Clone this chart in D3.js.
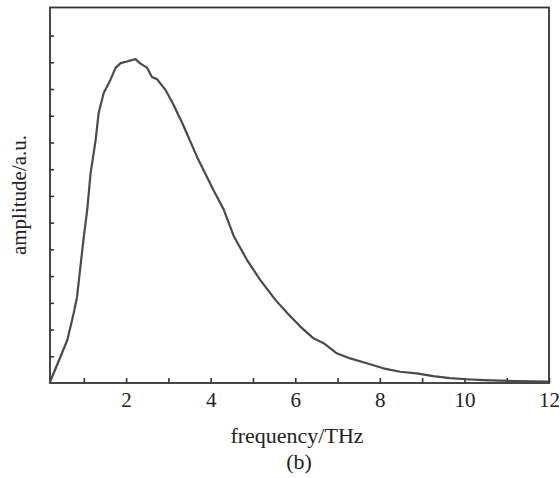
<!DOCTYPE html>
<html>
<head>
<meta charset="utf-8">
<script src="https://cdn.jsdelivr.net/npm/d3@7"></script>
<style>
  body { margin: 0; background: #fff; }
  text { font-family: "Liberation Serif", "DejaVu Serif", serif; fill: #222; }
</style>
</head>
<body>
<div id="chart"></div>
<script>
// spectrum (frequency THz, amplitude a.u.)
let freq = [0.19, 0.45, 0.61, 0.76, 0.84, 0.92, 1.0, 1.08, 1.16, 1.28, 1.35, 1.47, 1.63, 1.75, 1.87, 2.02, 2.22,
  2.34, 2.50, 2.61, 2.73, 2.93, 3.12, 3.33, 3.68, 4.07, 4.31, 4.55, 4.86, 5.17, 5.53, 5.82, 6.12, 6.43, 6.67,
  6.98, 7.30, 7.69, 8.08, 8.48, 8.87, 9.26, 9.66, 10.05, 10.44, 10.84, 11.23, 11.62, 11.98];
let amp = [0.0, 0.99, 1.61, 2.61, 3.23, 4.36, 5.48, 6.48, 7.85, 9.1, 10.1, 10.85, 11.35, 11.79, 11.97, 12.03, 12.12,
  11.95, 11.79, 11.45, 11.37, 10.97, 10.41, 9.72, 8.45, 7.2, 6.48, 5.48, 4.6, 3.86, 3.11, 2.6, 2.11, 1.67, 1.49,
  1.11, 0.92, 0.74, 0.55, 0.42, 0.36, 0.26, 0.18, 0.14, 0.11, 0.09, 0.07, 0.06, 0.05];
let xTicks = [1, 2, 3, 4, 5, 6, 7, 8, 9, 10, 11, 12];
let yTicks = [1, 2, 3, 4, 5, 6, 7, 8, 9, 10, 11, 12, 13];

let width = 560;
let height = 478;
let plotLeft = 50, plotRight = 549, plotTop = 7.5, plotBottom = 383;

let x = d3.scaleLinear().domain([0.2, 12]).range([plotLeft, plotRight]);
let y = d3.scaleLinear().domain([0, 14.05]).range([plotBottom, plotTop]);

let svg = d3.select('#chart')
  .append("svg")
  .attr("width", width)
  .attr("height", height);

// bottom axis, ticks pointing inward, labels on even values
let xAxis = svg.append("g")
  .attr("transform", "translate(0," + plotBottom + ")")
  .call(d3.axisBottom(x)
    .tickValues(xTicks)
    .tickSize(-5)
    .tickPadding(9)
    .tickFormat(function (d) { return d % 2 === 0 ? d : ""; }));
xAxis.select(".domain").remove();
xAxis.selectAll("line").attr("stroke", "#333").attr("stroke-width", 1.6);
xAxis.selectAll("text").attr("font-size", 21).attr("font-family", "Liberation Serif").attr("fill", "#222");

// left axis, no labels
let yAxis = svg.append("g")
  .attr("transform", "translate(" + plotLeft + ",0)")
  .call(d3.axisLeft(y)
    .tickValues(yTicks)
    .tickSize(-4)
    .tickFormat(""));
yAxis.select(".domain").remove();
yAxis.selectAll("line").attr("stroke", "#333").attr("stroke-width", 1.6);

// frame
svg.append("rect")
  .attr("x", plotLeft)
  .attr("y", plotTop)
  .attr("width", plotRight - plotLeft)
  .attr("height", plotBottom - plotTop)
  .attr("fill", "none")
  .attr("stroke", "#333")
  .attr("stroke-width", 1.8);

let line = d3.line()
  .x(function (d, i) { return x(freq[i]); })
  .y(function (d, i) { return y(amp[i]); })
  .curve(d3.curveLinear);

svg.append("path")
  .datum(amp)
  .attr("d", line)
  .attr("fill", "none")
  .attr("stroke", "#4a4a4a")
  .attr("stroke-width", 2.2)
  .attr("stroke-linejoin", "round");

svg.append("text")
  .attr("transform", "translate(26," + 195 + ") rotate(-90)")
  .attr("text-anchor", "middle")
  .attr("font-size", 21)
  .text("amplitude/a.u.");

svg.append("text")
  .attr("x", 297)
  .attr("y", 443)
  .attr("text-anchor", "middle")
  .attr("font-size", 22)
  .text("frequency/THz");

svg.append("text")
  .attr("x", 299)
  .attr("y", 469)
  .attr("text-anchor", "middle")
  .attr("font-size", 22)
  .text("(b)");
</script>
</body>
</html>
